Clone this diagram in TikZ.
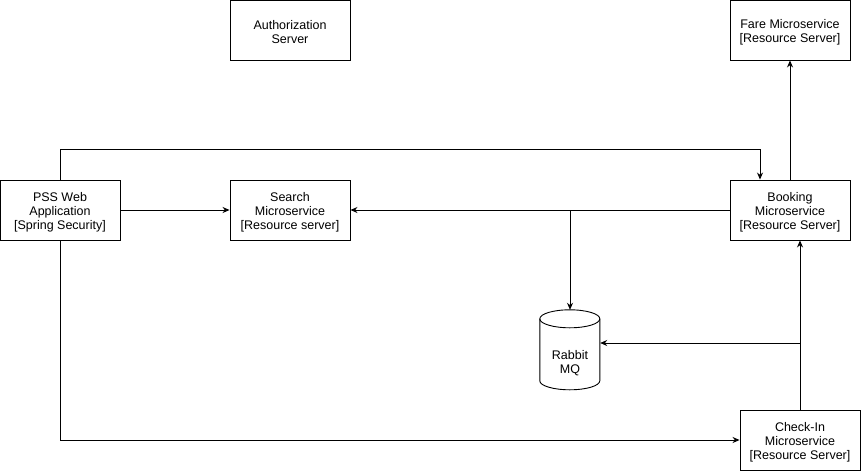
\documentclass[tikz,border=0pt]{standalone}
\usepackage{fontspec}
\setmainfont{Liberation Sans}
\usetikzlibrary{arrows.meta}
\begin{document}
\begin{tikzpicture}[x=1pt,y=-1pt,
  txt/.style={align=center,inner sep=0pt,font=\fontsize{12.5}{14}\selectfont},
  box/.style={draw,line width=0.9pt,minimum width=120pt,minimum height=60pt,inner sep=0pt},
  conn/.style={line width=0.9pt,-{Stealth[length=7pt,width=6pt]}},
  plain/.style={line width=0.9pt}]
\useasboundingbox (0,0) rectangle (861,471);
\node[box] (auth) at (290,30) {};
\node[txt] (authT) at (290,32) {Authorization\\Server};
\node[box] (fare) at (790,30) {};
\node[txt] (fareT) at (790,32) {Fare Microservice\\{}[Resource Server]};
\node[box] (pss) at (60,210) {};
\node[txt] (pssT) at (60,212) {PSS Web\\Application\\{}[Spring Security]};
\node[box] (search) at (290,210) {};
\node[txt] (searchT) at (290,212) {Search\\Microservice\\{}[Resource server]};
\node[box] (book) at (790,210) {};
\node[txt] (bookT) at (790,212) {Booking\\Microservice\\{}[Resource Server]};
\node[box] (check) at (800,440) {};
\node[txt] (checkT) at (800,442) {Check-In\\Microservice\\{}[Resource Server]};
\node[minimum width=60pt,minimum height=80pt,inner sep=0pt] (rabbit) at (570,350) {};
\draw[plain,fill=white] (rabbit.north west) ++(0,9) -- ++(0,62) arc[start angle=180,end angle=360,x radius=30,y radius=-9] -- ++(0,-62) arc[start angle=0,end angle=180,x radius=30,y radius=-9] -- cycle;
\draw[plain] (rabbit.north west) ++(0,9) arc[start angle=180,end angle=360,x radius=30,y radius=-9];
\node[txt] (rabbitT) at (570,363) {Rabbit\\MQ};
% connectors
\draw[conn] (pss.north) -- ++(0,-30) -| ([xshift=-30pt]book.north);
\draw[conn] (pss.east) -- (search.west);
\draw[conn] (book.west) -- (search.east);
\coordinate (br) at (570,210);
\draw[conn] (br) -- (rabbit.north);
\draw[conn] (book.north) -- (fare.south);
\draw[conn] (check.north) -- (check.north |- book.south);
\coordinate (cr) at (800,343);
\draw[conn] (cr) -- (cr -| rabbit.east);
\draw[conn] (pss.south) |- (check.west);
\end{tikzpicture}
\end{document}
